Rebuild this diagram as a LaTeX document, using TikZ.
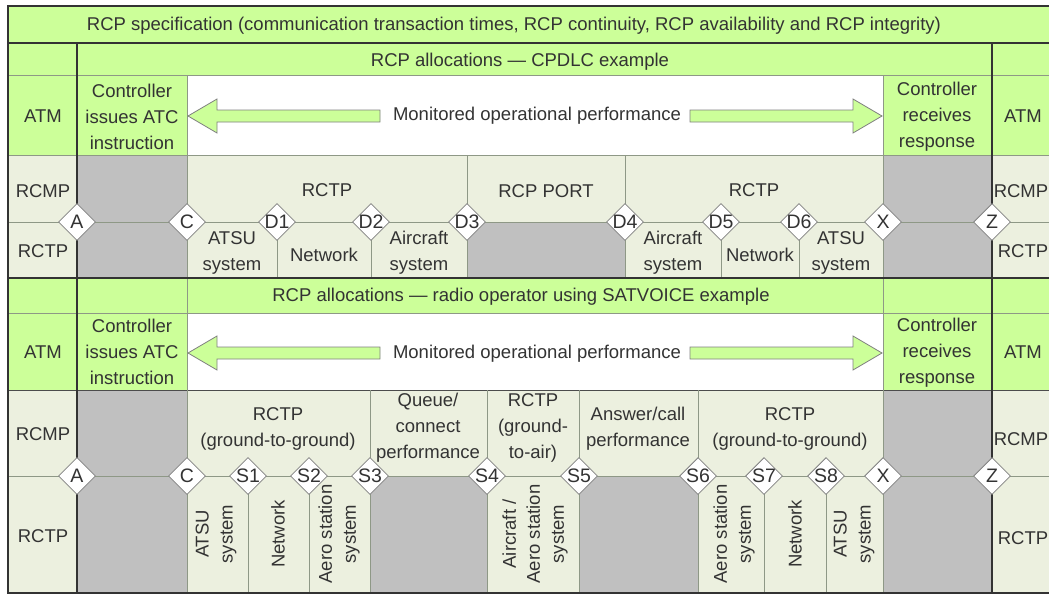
\documentclass[tikz,border=0pt]{standalone}
\usepackage{fontspec}
\setmainfont{Liberation Sans}
\usetikzlibrary{shapes.geometric}
\definecolor{rcpgreen}{HTML}{CCFF99}
\definecolor{rcppale}{HTML}{ECF0DF}
\definecolor{rcpgray}{HTML}{C0C0C0}
\definecolor{rcpline}{HTML}{8E9886}
\definecolor{rcpink}{HTML}{333333}
\tikzset{txt/.style={font=\fontsize{18.5}{26}\selectfont,text=rcpink,align=center,inner sep=0pt},vtxt/.style={txt,rotate=90,font=\fontsize{18.5}{24}\selectfont},refpt/.style={diamond,draw=gray,fill=white,line width=0.8pt,minimum width=37pt,minimum height=37pt,inner sep=0pt},ptlabel/.style={txt,font=\fontsize{19.5}{24}\selectfont},rule/.style={draw=black!80,line width=1.6pt},cell/.style={draw=rcpline,line width=0.8pt},bigarrow/.style={fill=rcpgreen,draw=gray,line width=0.8pt,line join=miter}}

\begin{document}
\begin{tikzpicture}[x=1pt,y=-1pt]
\useasboundingbox (0,0) rectangle (1049,595);
\clip (0,0) rectangle (1049,595);
\fill[white] (0,0) rectangle (1049,595);
% backgrounds, CPDLC part
\fill[rcpgreen] (8,6) rectangle (1070,155);
\fill[white] (187,75) rectangle (883,155);
\fill[rcppale] (8,155) rectangle (1070,278);
\fill[rcpgray] (77,155) rectangle (187,278);
\fill[rcpgray] (883,155) rectangle (992,278);
\fill[rcpgray] (467,222) rectangle (625,278);
% backgrounds, SATVOICE part
\fill[rcpgreen] (8,278) rectangle (1070,390);
\fill[white] (187,313) rectangle (883,390);
\fill[rcppale] (8,390) rectangle (1070,593);
\fill[rcpgray] (77,390) rectangle (187,593);
\fill[rcpgray] (883,390) rectangle (992,593);
\fill[rcpgray] (370,476) rectangle (487,593);
\fill[rcpgray] (579,476) rectangle (698,593);
% thin cell lines
\draw[cell] (8,75) -- (1070,75) (8,155) -- (1070,155) (8,222) -- (1070,222);
\draw[cell] (187,75) -- (187,278) (883,75) -- (883,278) (467,155) -- (467,278) (625,155) -- (625,278);
\foreach \x in {277,371,721,799} \draw[cell] (\x,222) -- (\x,278);
\draw[cell] (8,313) -- (1070,313) (8,476) -- (1070,476);
\draw[cell,draw=black!70] (8,390) -- (1070,390);
\draw[cell] (187,278) -- (187,593) (883,278) -- (883,593);
\foreach \x in {370,487,579,698} \draw[cell] (\x,390) -- (\x,593);
\foreach \x in {248,309,764,826} \draw[cell] (\x,476) -- (\x,593);
% heavy rules
\draw[rule] (8,6) rectangle (1070,593);
\draw[rule] (8,43) -- (1070,43) (8,278) -- (1070,278);
\draw[rule] (77,43) -- (77,593) (992,43) -- (992,593);
% monitored performance arrows
\foreach \y in {116,353}{
  \draw[bigarrow] (188,\y) -- (217,\y-17) -- (217,\y-6) -- (380,\y-6) -- (380,\y+6) -- (217,\y+6) -- (217,\y+17) -- cycle;
  \draw[bigarrow] (882,\y) -- (853,\y-17) -- (853,\y-6) -- (690,\y-6) -- (690,\y+6) -- (853,\y+6) -- (853,\y+17) -- cycle;
}
% texts
\node[txt] (spec) at (514,26) {RCP specification (communication transaction times, RCP continuity, RCP availability and RCP integrity)};
\node[txt] (cpdlc) at (520,62) {RCP allocations --- CPDLC example};
\node[txt] (satv) at (521,297) {RCP allocations --- radio operator using SATVOICE example};
\node[txt] (atmL1) at (43,116) {ATM};
\node[txt] (rcmpL1) at (43,191) {RCMP};
\node[txt] (rctpL1) at (43,251) {RCTP};
\node[txt] (atmR1) at (1023,116) {ATM};
\node[txt] (rcmpR1) at (1021,191) {RCMP};
\node[txt] (rctpR1) at (1023,251) {RCTP};
\node[txt] (atmL2) at (43,352) {ATM};
\node[txt] (rcmpL2) at (43,434) {RCMP};
\node[txt] (rctpL2) at (43,536) {RCTP};
\node[txt] (atmR2) at (1023,352) {ATM};
\node[txt] (rcmpR2) at (1021,439) {RCMP};
\node[txt] (rctpR2) at (1023,538) {RCTP};
\node[txt] (issue1) at (132,117) {Controller\\issues ATC\\instruction};
\node[txt] (recv1) at (937,117) {Controller\\receives\\response};
\node[txt] (issue2) at (132,352) {Controller\\issues ATC\\instruction};
\node[txt] (recv2) at (937,353) {Controller\\receives\\response};
\node[txt,fill=white,inner xsep=4pt] (mon1) at (537,116) {Monitored operational performance};
\node[txt,fill=white,inner xsep=4pt] (mon2) at (537,354) {Monitored operational performance};
\node[txt] (rctpA) at (327,190) {RCTP};
\node[txt] (port) at (546,191) {RCP PORT};
\node[txt] (rctpB) at (754,190) {RCTP};
\node[txt] (atsuA) at (232,253) {ATSU\\system};
\node[txt] (netA) at (324,255) {Network};
\node[txt] (acA) at (419,253) {Aircraft\\system};
\node[txt] (acB) at (673,253) {Aircraft\\system};
\node[txt] (netB) at (760,255) {Network};
\node[txt] (atsuB) at (841,253) {ATSU\\system};
\node[txt] (ggA) at (278,429) {RCTP\\(ground-to-ground)};
\node[txt] (queue) at (428,428) {Queue/\\connect\\performance};
\node[txt] (ga) at (533,428) {RCTP\\(ground-\\to-air)};
\node[txt] (answer) at (638,429) {Answer/call\\performance};
\node[txt] (ggB) at (790,429) {RCTP\\(ground-to-ground)};
\node[vtxt] (atsuC) at (216,534) {ATSU\\system};
\node[vtxt] (netC) at (278,534) {Network};
\node[vtxt] (aeroA) at (339,534) {Aero station\\system};
\node[vtxt] (acC) at (535,534) {Aircraft /\\Aero station\\system};
\node[vtxt] (aeroB) at (734,534) {Aero station\\system};
\node[vtxt] (netD) at (795,534) {Network};
\node[vtxt] (atsuD) at (854,534) {ATSU\\system};
% reference points
\foreach \n/\x in {A/77,C/187,D1/277,D2/371,D3/467,D4/625,D5/721,D6/799,X/883,Z/992}
  \node[refpt,label={[ptlabel]center:\n}] (pa\n) at (\x,222) {};
\foreach \n/\x in {A/77,C/187,S1/248,S2/309,S3/370,S4/487,S5/579,S6/698,S7/764,S8/826,X/883,Z/992}
  \node[refpt,label={[ptlabel]center:\n}] (pb\n) at (\x,476) {};
\end{tikzpicture}
\end{document}
